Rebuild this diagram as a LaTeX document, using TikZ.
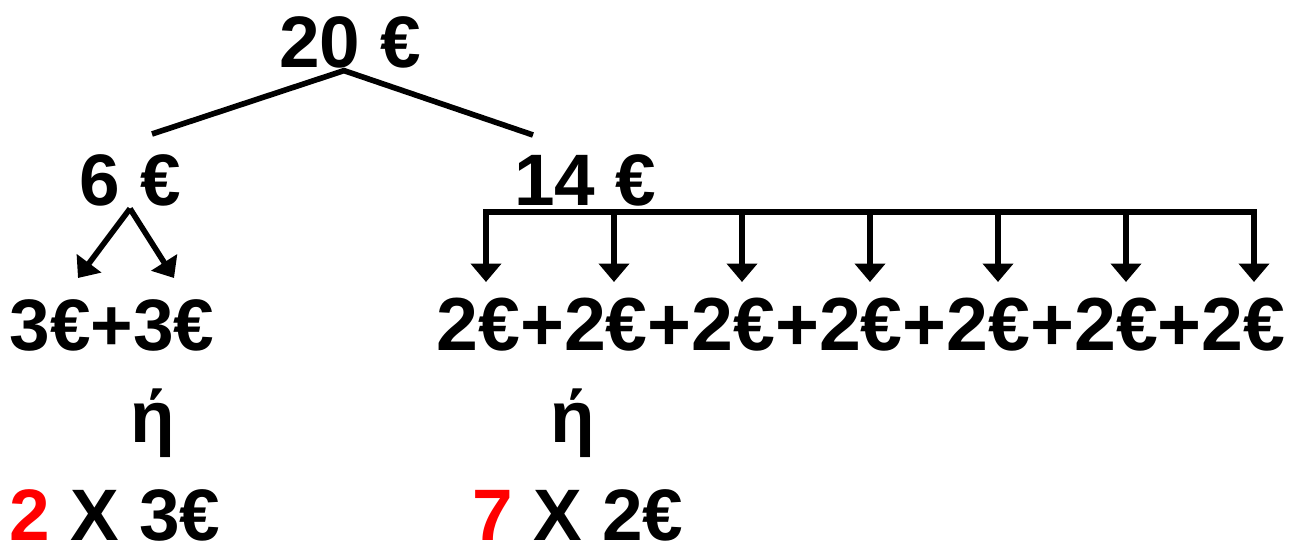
\documentclass[tikz,border=0pt]{standalone}
\usepackage{fontspec}
\setmainfont{Liberation Sans}
\usetikzlibrary{arrows.meta}
\begin{document}
\begin{tikzpicture}[x=0.02cm, y=-0.02cm, line width=3.2pt,
    every node/.style={font=\fontsize{41.5}{50}\selectfont\bfseries, inner sep=0pt},
    seta/.style={-{Triangle[width=17pt,length=10.5pt]}}]
    \useasboundingbox (0,0) rectangle (1291,550);

    % Valor total
    \node (total) at (350,42) {20 €};

    % Duas partes
    \node (seis) at (130,180) {6 €};
    \node (catorze) at (585,180) {14 €};
    \coordinate (esq) at (152,134);
    \coordinate (dir) at (533,135);
    \draw (esq) -- ([xshift=-0.12cm]total.south) -- (dir);

    % Parte de 6 euros
    \coordinate (ptA) at (78,278);
    \coordinate (ptB) at (174,278);
    \draw[seta] (seis.south) -- (ptA);
    \draw[seta] (seis.south) -- (ptB);
    \node (tres) at (112,325) {3€+3€};

    % Parte de 14 euros
    \foreach \i in {0,...,6} {
        \coordinate (b\i) at (486+128*\i,212);
        \coordinate (p\i) at (486+128*\i,282);
        \draw[seta] (b\i) -- (p\i);
    }
    \draw[line cap=rect] (b0) -- (b6);
    \node[font=\fontsize{42.8}{50}\selectfont\bfseries] (dois) at (861,325)
        {2€+2€+2€+2€+2€+2€+2€};

    % Ou seja
    \node (ouA) at (153,423) {ή};
    \node (ouB) at (573,423) {ή};

    % Resultado
    \node (resA) at (115,515) {\textcolor{red}{2} X 3€};
    \node (resB) at (578,515) {\textcolor{red}{7} X 2€};
\end{tikzpicture}
\end{document}
